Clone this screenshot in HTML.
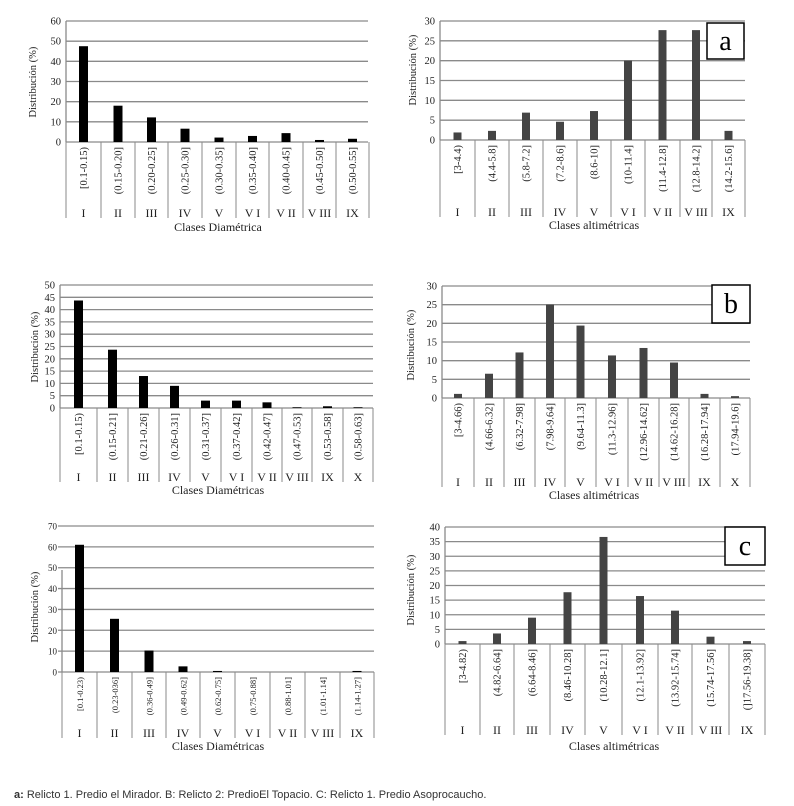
<!DOCTYPE html>
<html><head><meta charset="utf-8"><style>
body{margin:0;background:#fff;}
svg{display:block;font-family:"Liberation Serif",serif;}
</style></head><body>
<svg id="s" width="794" height="806" xmlns="http://www.w3.org/2000/svg"></svg>
<script>
var charts=[
{ax:66,right:368,top:21,bot:142,max:60,step:10,div:[66,101,135,168,202,236,269,303,336,369],dbot:218,rom:213,col:"#000",bw:9,
vals:[47.5,18,12.2,6.6,2.2,3,4.4,1,1.6],labs:["[0.1-0.15)","(0.15-0.20]","(0.20-0.25]","(0.25-0.30]","(0.30-0.35]","(0.35-0.40]","(0.40-0.45]","(0.45-0.50]","(0.50-0.55]"],
roms:["I","II","III","IV","V","V I","V II","V III","IX"],title:"Clases Diamétrica",tx:218,ty:231,yx:36,yy:82,lf:10.5},
{ax:440,right:745,top:21,bot:140,max:30,step:5,div:[440,475,509,543,577,611,645,680,712,745],dbot:217,rom:212,col:"#444",bw:8,
vals:[1.9,2.3,6.9,4.6,7.3,20,27.7,27.7,2.3],labs:["[3-4.4)","(4.4-5.8]","(5.8-7.2]","(7.2-8.6]","(8.6-10]","(10-11.4]","(11.4-12.8]","(12.8-14.2]","(14.2-15.6]"],
roms:["I","II","III","IV","V","V I","V II","V III","IX"],title:"Clases altimétricas",tx:594,ty:229,yx:416,yy:70,lf:10.5,box:[707,23,37,36,"a"]},
{ax:60,right:373,top:285,bot:408,max:50,step:5,div:[60,97,128,159,190,221,252,282,312,343,373],dbot:482,rom:477,col:"#000",bw:9,
vals:[43.7,23.7,13,9,3,3,2.3,0.3,0.7,0.3],labs:["[0.1-0.15)","(0.15-0.21]","(0.21-0.26]","(0.26-0.31]","(0.31-0.37]","(0.37-0.42]","(0.42-0.47]","(0.47-0.53]","(0.53-0.58]","(0.58-0.63]"],
roms:["I","II","III","IV","V","V I","V II","V III","IX","X"],title:"Clases Diamétricas",tx:218,ty:494,yx:38,yy:347,lf:10.5},
{ax:442,right:750,top:286,bot:398,max:30,step:5,div:[442,474,504,535,565,596,628,659,689,720,750],dbot:487,rom:482,col:"#444",bw:8,
vals:[1.1,6.5,12.2,25,19.4,11.4,13.4,9.5,1.1,0.5],labs:["[3-4.66)","(4.66-6.32]","(6.32-7.98]","(7.98-9.64]","(9.64-11.3]","(11.3-12.96]","(12.96-14.62]","(14.62-16.28]","(16.28-17.94]","(17.94-19.6]"],
roms:["I","II","III","IV","V","V I","V II","V III","IX","X"],title:"Clases altimétricas",tx:594,ty:499,yx:414,yy:345,lf:10.5,box:[712,285,38,38,"b"]},
{ax:62,right:374,top:526,bot:672,max:70,step:10,div:[62,97,132,166,200,235,270,305,340,374],dbot:738,rom:733,col:"#000",bw:9,gl:58,axTop:570,
vals:[61,25.5,10.3,2.7,0.5,0,0,0,0.5],labs:["[0.1-0.23)","(0.23-036]","(0.36-0.49]","(0.49-0.62]","(0.62-0.75]","(0.75-0.88]","(0.88-1.01]","(1.01-1.14]","(1.14-1.27]"],
roms:["I","II","III","IV","V","V I","V II","V III","IX"],title:"Clases Diamétricas",tx:218,ty:750,yx:38,yy:607,lf:8.5,tf:9},
{ax:445,right:765,top:527,bot:644,max:40,step:5,div:[445,480,514,550,585,622,658,692,729,765],dbot:735,rom:730,col:"#444",bw:8,
vals:[1,3.6,9,17.7,36.6,16.4,11.4,2.5,1],labs:["[3-4.82)","(4.82-6.64]","(6.64-8.46]","(8.46-10.28]","(10.28-12.1]","(12.1-13.92]","(13.92-15.74]","(15.74-17.56]","(]17.56-19.38]"],
roms:["I","II","III","IV","V","V I","V II","V III","IX"],title:"Clases altimétricas",tx:614,ty:750,yx:414,yy:590,lf:10.5,box:[725,527,40,38,"c"]}
];
var h="";
charts.forEach(function(c){
  var n=c.max/c.step, gl=c.gl||c.ax, tf=c.tf||10.5;
  for(var i=0;i<=n;i++){var y=c.bot-(c.bot-c.top)*i/n;
    h+='<line x1="'+gl+'" y1="'+y+'" x2="'+c.right+'" y2="'+y+'" stroke="#8a8a8a" stroke-width="1.3"/>';
    h+='<text x="'+(c.ax-5)+'" y="'+(y+3.5)+'" font-size="'+tf+'" text-anchor="end" fill="#222">'+(i*c.step)+'</text>';}
  h+='<line x1="'+c.ax+'" y1="'+(c.axTop||c.top)+'" x2="'+c.ax+'" y2="'+c.bot+'" stroke="#8a8a8a" stroke-width="1.3"/>';
  c.div.forEach(function(x){h+='<line x1="'+x+'" y1="'+c.bot+'" x2="'+x+'" y2="'+c.dbot+'" stroke="#8a8a8a" stroke-width="1"/>';});
  c.vals.forEach(function(v,i){var cx=(c.div[i]+c.div[i+1])/2;var bh=(c.bot-c.top)*v/c.max;
    if(v>0)h+='<rect x="'+(cx-c.bw/2)+'" y="'+(c.bot-bh)+'" width="'+c.bw+'" height="'+bh+'" fill="'+c.col+'"/>';
    h+='<text transform="translate('+(cx+3.5)+','+(c.bot+5)+') rotate(-90)" font-size="'+c.lf+'" text-anchor="end" fill="#222">'+c.labs[i]+'</text>';
    h+='<text x="'+cx+'" y="'+(c.rom+4)+'" font-size="12" text-anchor="middle" fill="#222">'+c.roms[i]+'</text>';});
  h+='<text x="'+c.tx+'" y="'+c.ty+'" font-size="12" text-anchor="middle" fill="#222">'+c.title+'</text>';
  h+='<text transform="translate('+c.yx+','+c.yy+') rotate(-90)" font-size="10.5" text-anchor="middle" fill="#222">Distribución (%)</text>';
  if(c.box){var b=c.box;h+='<rect x="'+b[0]+'" y="'+b[1]+'" width="'+b[2]+'" height="'+b[3]+'" fill="#fff" stroke="#000" stroke-width="1.5"/>';
    h+='<text x="'+(b[0]+b[2]/2)+'" y="'+(b[1]+b[3]/2+9)+'" font-size="28" text-anchor="middle" fill="#000">'+b[4]+'</text>';}
});
h+='<text x="14" y="798" font-family="Liberation Sans, sans-serif" font-size="11" fill="#333"><tspan font-weight="bold">a:</tspan> Relicto 1. Predio el Mirador. B: Relicto 2: PredioEl Topacio. C: Relicto 1. Predio Asoprocaucho.</text>';
document.getElementById("s").innerHTML=h;
</script>
</body></html>
